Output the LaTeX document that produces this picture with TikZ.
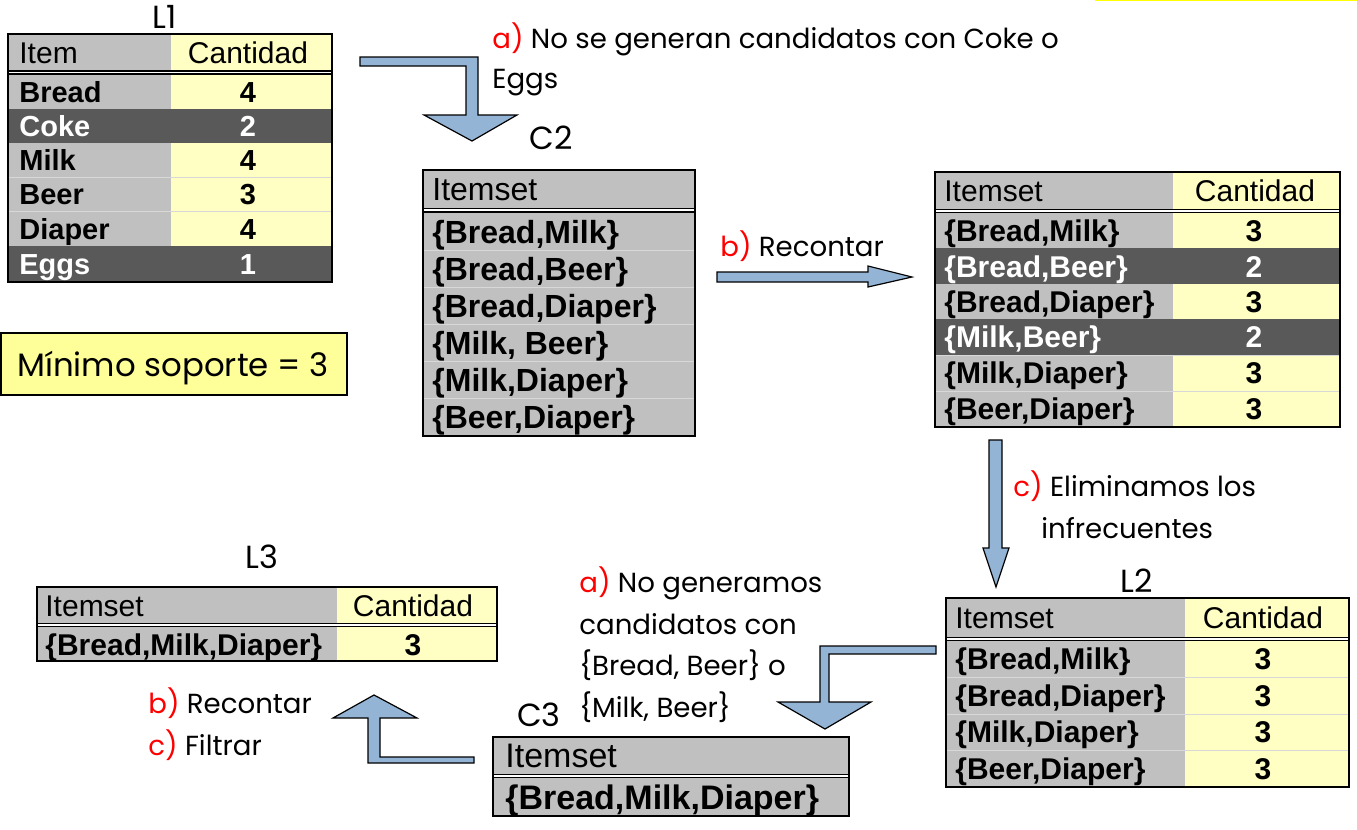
\documentclass[tikz,border=0pt]{standalone}
\usepackage{fontspec}
\setmainfont{Liberation Sans}
\newfontfamily\ann{Poppins}
\definecolor{tgray}{HTML}{C0C0C0}
\definecolor{tyel}{HTML}{FFFFC4}
\definecolor{tdark}{HTML}{595959}
\definecolor{grid}{HTML}{D8D8D8}
\definecolor{arrowblue}{HTML}{93B4D5}
\definecolor{minyel}{HTML}{FFFF99}
\definecolor{topyel}{HTML}{FFFF00}
\begin{document}
\begin{tikzpicture}[x=0.5pt,y=-0.5pt,
  border/.style={draw=black,line width=1.3pt},
  gridline/.style={draw=grid,line width=0.4pt},
  dbl/.style={draw=black,line width=0.65pt},
  blockarrow/.style={fill=arrowblue,draw=black,line width=0.6pt,line join=miter},
  cellL/.style={inner sep=0pt,anchor=base west},
  cellC/.style={inner sep=0pt,anchor=base},
  annot/.style={inner sep=0pt,anchor=base west,font=\ann\fontsize{13.8}{17}\selectfont},
  lbl/.style={inner sep=0pt,anchor=base,font=\ann\fontsize{16}{19}\selectfont},
  hdrL1/.style={font=\fontsize{15}{18}\selectfont},
  bodyL1/.style={font=\fontsize{14.5}{17}\selectfont\bfseries},
  hdrC2/.style={font=\fontsize{16}{19}\selectfont},
  bodyC2/.style={font=\fontsize{16}{19}\selectfont\bfseries},
  hdrN/.style={font=\fontsize{15}{18}\selectfont},
  bodyN/.style={font=\fontsize{15}{18}\selectfont\bfseries},
  hdrC3/.style={font=\fontsize{17}{20}\selectfont},
  bodyC3/.style={font=\fontsize{17}{20}\selectfont\bfseries},
  ]
\useasboundingbox (0,0) rectangle (1357,830);
\fill[white] (0,0) rectangle (1357,830);
\draw[topyel,line width=0.8pt] (1095,0.5) -- (1357,0.5);

% ================= L1 =================
\fill[tgray] (8,34) rectangle (171,282);
\fill[tyel] (171,34) rectangle (332,282);
\fill[tdark] (8,109) rectangle (332,143);
\fill[tdark] (8,246) rectangle (332,282);
\foreach \yy in {177,211} \draw[gridline] (8,\yy) -- (332,\yy);
\fill[white] (8,71) rectangle (332,74);
\draw[dbl] (8,71) -- (332,71);
\draw[dbl] (8,74) -- (332,74);
\draw[border] (8,34) rectangle (332,282);
\node[lbl] (L1lab) at (165,28) {L1};
\node[cellL,hdrL1] (L1h1) at (19,63.5) {Item};
\node[cellC,hdrL1] (L1h2) at (248,63.5) {Cantidad};
\node[cellL,bodyL1] (L1r1) at (19,102) {Bread};
\node[cellC,bodyL1] (L1v1) at (248,102) {4};
\node[cellL,bodyL1,text=white] (L1r2) at (19,136.5) {Coke};
\node[cellC,bodyL1,text=white] (L1v2) at (248,136.5) {2};
\node[cellL,bodyL1] (L1r3) at (19,170.5) {Milk};
\node[cellC,bodyL1] (L1v3) at (248,170.5) {4};
\node[cellL,bodyL1] (L1r4) at (19,204.5) {Beer};
\node[cellC,bodyL1] (L1v4) at (248,204.5) {3};
\node[cellL,bodyL1] (L1r5) at (19,239) {Diaper};
\node[cellC,bodyL1] (L1v5) at (248,239) {4};
\node[cellL,bodyL1,text=white] (L1r6) at (19,274.5) {Eggs};
\node[cellC,bodyL1,text=white] (L1v6) at (248,274.5) {1};

% ================= Minimo soporte =================
\node[draw=black,line width=0.7pt,fill=minyel,minimum width=173pt,minimum height=31pt,inner sep=0pt] (minsup) at (174,364) {};
\node[inner sep=0pt,anchor=base,font=\ann\fontsize{16.2}{19}\selectfont] (mintext) at (173,376) {Mínimo soporte = 3};

% ================= C2 =================
\fill[tgray] (423,170) rectangle (695,436);
\foreach \yy in {250,287,324,361,398} \draw[gridline] (423,\yy) -- (695,\yy);
\fill[white] (423,208.5) rectangle (695,212);
\draw[dbl] (423,208.5) -- (695,208.5);
\draw[dbl] (423,212) -- (695,212);
\draw[border] (423,170) rectangle (695,436);
\node[lbl] (C2lab) at (551,149) {C2};
\node[cellL,hdrC2] (C2h) at (432,200.5) {Itemset};
\node[cellL,bodyC2] (C2r1) at (432,243) {\{Bread,Milk\}};
\node[cellL,bodyC2] (C2r2) at (432,280) {\{Bread,Beer\}};
\node[cellL,bodyC2] (C2r3) at (432,317) {\{Bread,Diaper\}};
\node[cellL,bodyC2] (C2r4) at (432,354.5) {\{Milk, Beer\}};
\node[cellL,bodyC2] (C2r5) at (432,391.5) {\{Milk,Diaper\}};
\node[cellL,bodyC2] (C2r6) at (432,428.5) {\{Beer,Diaper\}};

% ================= C2 counted =================
\fill[tgray] (935,172) rectangle (1173,427);
\fill[tyel] (1173,172) rectangle (1340,427);
\fill[tdark] (935,248) rectangle (1340,284);
\fill[tdark] (935,319) rectangle (1340,355);
\foreach \yy in {355,391} \draw[gridline] (935,\yy) -- (1340,\yy);
\fill[white] (935,209.5) rectangle (1340,212.5);
\draw[dbl] (935,209.5) -- (1340,209.5);
\draw[dbl] (935,212.5) -- (1340,212.5);
\draw[border] (935,172) rectangle (1340,427);
\node[cellL,hdrN] (K2h1) at (944,201) {Itemset};
\node[cellC,hdrN] (K2h2) at (1255,201) {Cantidad};
\node[cellL,bodyN] (K2r1) at (944,241) {\{Bread,Milk\}};
\node[cellC,bodyN] (K2v1) at (1254,241) {3};
\node[cellL,bodyN,text=white] (K2r2) at (944,277) {\{Bread,Beer\}};
\node[cellC,bodyN,text=white] (K2v2) at (1254,277) {2};
\node[cellL,bodyN] (K2r3) at (944,312.5) {\{Bread,Diaper\}};
\node[cellC,bodyN] (K2v3) at (1254,312.5) {3};
\node[cellL,bodyN,text=white] (K2r4) at (944,347.5) {\{Milk,Beer\}};
\node[cellC,bodyN,text=white] (K2v4) at (1254,347.5) {2};
\node[cellL,bodyN] (K2r5) at (944,383.5) {\{Milk,Diaper\}};
\node[cellC,bodyN] (K2v5) at (1254,383.5) {3};
\node[cellL,bodyN] (K2r6) at (944,419) {\{Beer,Diaper\}};
\node[cellC,bodyN] (K2v6) at (1254,419) {3};

% ================= L2 =================
\fill[tgray] (946,598) rectangle (1185,787);
\fill[tyel] (1185,598) rectangle (1349,787);
\foreach \yy in {677.5,714,750.5} \draw[gridline] (946,\yy) -- (1349,\yy);
\fill[white] (946,637.5) rectangle (1349,640.5);
\draw[dbl] (946,637.5) -- (1349,637.5);
\draw[dbl] (946,640.5) -- (1349,640.5);
\draw[border] (946,598) rectangle (1349,787);
\node[lbl] (L2lab) at (1137,592) {L2};
\node[cellL,hdrN] (L2h1) at (955,628) {Itemset};
\node[cellC,hdrN] (L2h2) at (1263,628) {Cantidad};
\node[cellL,bodyN] (L2r1) at (955,669.5) {\{Bread,Milk\}};
\node[cellC,bodyN] (L2v1) at (1263,669.5) {3};
\node[cellL,bodyN] (L2r2) at (955,706) {\{Bread,Diaper\}};
\node[cellC,bodyN] (L2v2) at (1263,706) {3};
\node[cellL,bodyN] (L2r3) at (955,742.5) {\{Milk,Diaper\}};
\node[cellC,bodyN] (L2v3) at (1263,742.5) {3};
\node[cellL,bodyN] (L2r4) at (955,779) {\{Beer,Diaper\}};
\node[cellC,bodyN] (L2v4) at (1263,779) {3};

% ================= L3 =================
\fill[tgray] (37,587) rectangle (337,661);
\fill[tyel] (337,587) rectangle (497,661);
\fill[white] (37,623.5) rectangle (497,626.5);
\draw[dbl] (37,623.5) -- (497,623.5);
\draw[dbl] (37,626.5) -- (497,626.5);
\draw[border] (37,587) rectangle (497,661);
\node[lbl] (L3lab) at (262,568) {L3};
\node[cellL,hdrN] (L3h1) at (45,616) {Itemset};
\node[cellC,hdrN] (L3h2) at (413,616) {Cantidad};
\node[cellL,bodyN] (L3r1) at (45,655) {\{Bread,Milk,Diaper\}};
\node[cellC,bodyN] (L3v1) at (413,655) {3};

% ================= C3 =================
\fill[tgray] (493,737) rectangle (849,816);
\fill[white] (493,774.5) rectangle (849,777.5);
\draw[dbl] (493,774.5) -- (849,774.5);
\draw[dbl] (493,777.5) -- (849,777.5);
\draw[border] (493,737) rectangle (849,816);
\node[lbl] (C3lab) at (539,726) {C3};
\node[cellL,hdrC3] (C3h) at (505,767.5) {Itemset};
\node[cellL,bodyC3] (C3r1) at (505,809) {\{Bread,Milk,Diaper\}};

% ================= block arrows =================
\draw[blockarrow] (360,57) -- (478,57) -- (478,115) -- (517,115) -- (472,141) -- (424,115) -- (466,115) -- (466,66) -- (360,66) -- cycle;
\draw[blockarrow] (717,272) -- (868,272) -- (868,266) -- (912,277) -- (868,287) -- (868,282) -- (717,282) -- cycle;
\draw[blockarrow] (989,440) -- (1002,440) -- (1002,548) -- (1009,548) -- (996,587) -- (983,548) -- (989,548) -- cycle;
\draw[blockarrow] (936,646) -- (820,646) -- (820,702) -- (778,702) -- (825,729) -- (871,702) -- (829,702) -- (829,654) -- (936,654) -- cycle;
\draw[blockarrow] (474,757) -- (380,757) -- (380,718) -- (417,718) -- (374,695) -- (333,718) -- (368,718) -- (368,763) -- (474,763) -- cycle;

% ================= annotations =================
\node[annot] (ta1) at (492,48) {\textcolor{red}{a)} No se generan candidatos con Coke o};
\node[annot] (ta1b) at (492,89) {Eggs};
\node[annot] (tb1) at (720,256) {\textcolor{red}{b)} Recontar};
\node[annot] (tc1) at (1013,496) {\textcolor{red}{c)} Eliminamos los};
\node[annot] (tc1b) at (1041,538) {infrecuentes};
\node[annot] (ta2) at (579,592) {\textcolor{red}{a)} No generamos};
\node[annot] (ta2b) at (579,634) {candidatos con};
\node[annot] (ta2c) at (579,675) {\{Bread, Beer\} o};
\node[annot] (ta2d) at (579,717) {\{Milk, Beer\}};
\node[annot] (tb2) at (148,713) {\textcolor{red}{b)} Recontar};
\node[annot] (tc2) at (148,755) {\textcolor{red}{c)} Filtrar};
\end{tikzpicture}
\end{document}
